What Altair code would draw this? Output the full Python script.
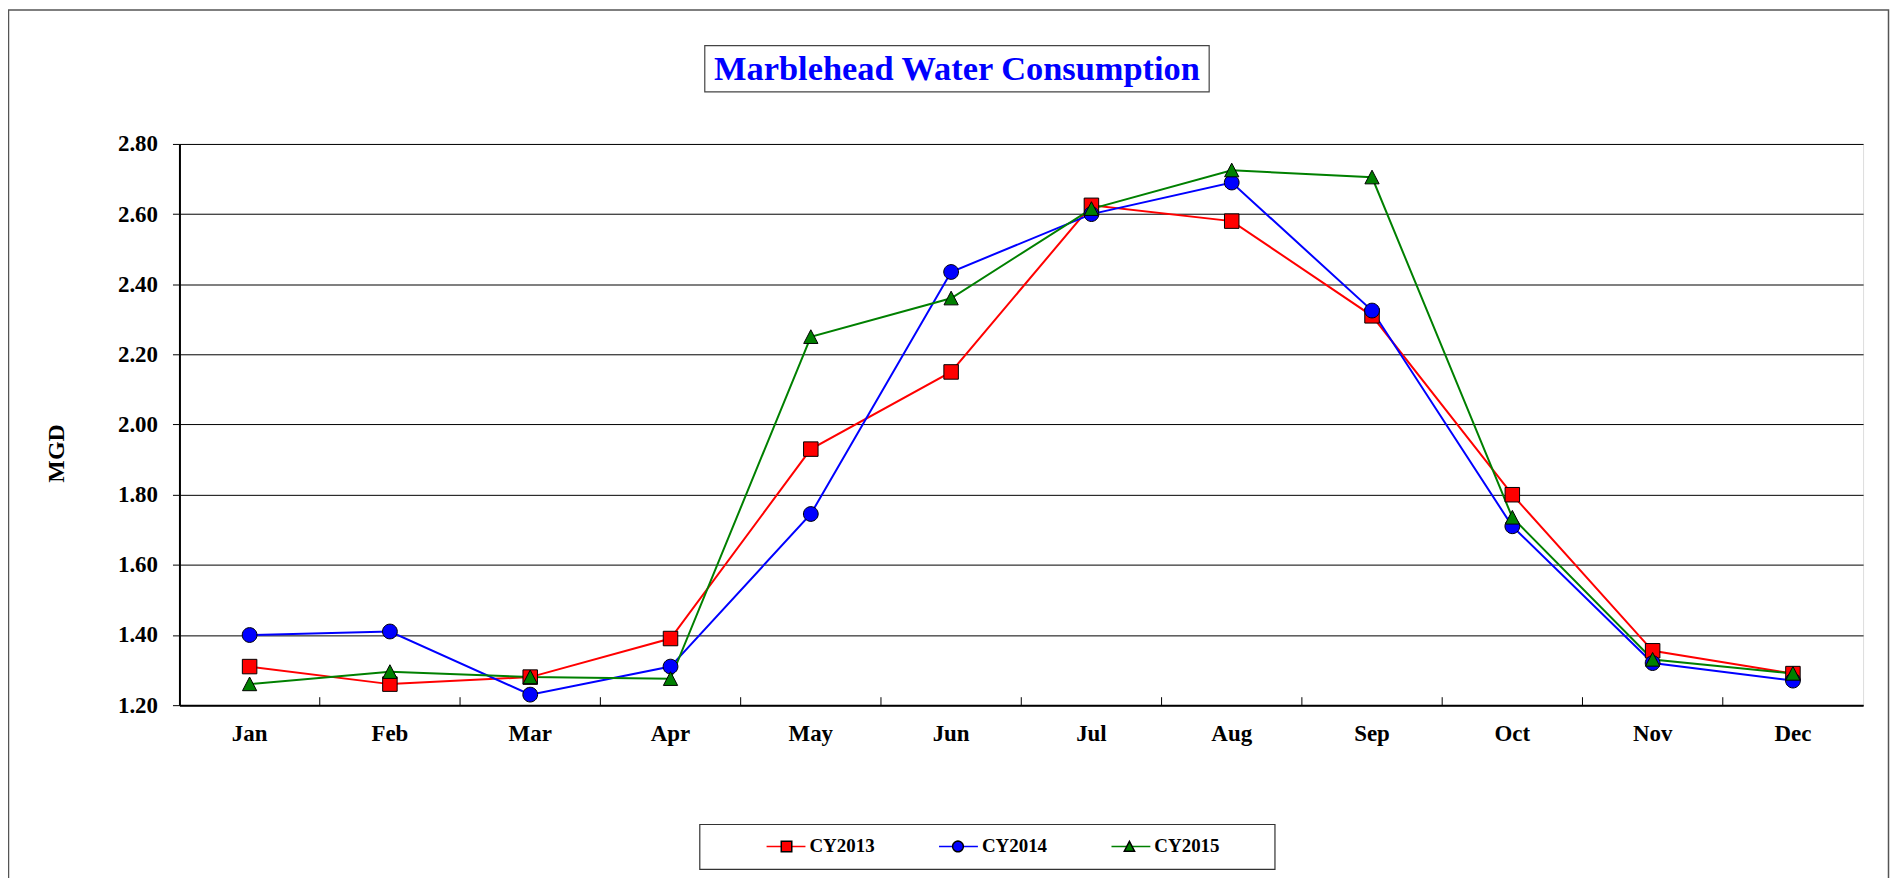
import math
import altair as alt
import pandas as pd

# ---------------- data ----------------
months = ["Jan", "Feb", "Mar", "Apr", "May", "Jun", "Jul", "Aug", "Sep", "Oct", "Nov", "Dec"]
series_names = ["CY2013", "CY2014", "CY2015"]
cy2013 = [1.31, 1.26, 1.28, 1.39, 1.93, 2.15, 2.625, 2.58, 2.31, 1.80, 1.355, 1.29]
cy2014 = [1.40, 1.41, 1.23, 1.31, 1.745, 2.435, 2.60, 2.69, 2.325, 1.71, 1.32, 1.27]
cy2015 = [1.26, 1.295, 1.28, 1.275, 2.25, 2.36, 2.615, 2.725, 2.705, 1.735, 1.33, 1.29]
y_ticks = [1.2, 1.4, 1.6, 1.8, 2.0, 2.2, 2.4, 2.6, 2.8]
title_text = "Marblehead Water Consumption"
y_title = "MGD"

line_colors = ["#FF0000", "#0000FF", "#008000"]

rows = []
for name, vals in zip(series_names, [cy2013, cy2014, cy2015]):
    for i, (m, v) in enumerate(zip(months, vals)):
        rows.append({"month": m, "idx": i, "mgd": v, "series": name, "marker": name})
df = pd.DataFrame(rows)
tick_df = pd.DataFrame({"month": months[1:]})
one = pd.DataFrame({"a": [0]})

FONT = "Liberation Serif"
W, H = 1689, 563

# custom marker shapes (unit coords, rendered at sqrt(size)/2 per unit)
r = 0.27
square = f"M{-r},{-r}H{r}V{r}H{-r}Z"
rc = 0.275
circle = "M" + "L".join(
    f"{rc * math.cos(2 * math.pi * k / 28):.4f},{rc * math.sin(2 * math.pi * k / 28):.4f}" for k in range(28)
) + "Z"
triangle = "M0,-0.265L0.265,0.245L-0.265,0.245Z"

x_scale = alt.Scale(type="band", paddingInner=0, paddingOuter=0, domain=months)
y_scale = alt.Scale(domain=[1.2, 2.8], nice=False, zero=False)

x_axis = alt.Axis(
    title=None, labelAngle=0, labelFont=FONT, labelFontSize=23, labelFontWeight="bold",
    labelColor="black", ticks=False, labelPadding=17, domainColor="black", domainWidth=2, grid=False,
)
y_axis = alt.Axis(
    values=y_ticks, format=".2f", title=y_title, titleFont=FONT, titleFontSize=24,
    titleFontWeight="bold", titleColor="black", titleAngle=270, titleX=-123, titleY=310,
    titleAlign="center", titleBaseline="middle",
    labelFont=FONT, labelFontSize=23, labelFontWeight="bold", labelColor="black",
    labelPadding=15, tickSize=7, tickColor="black", tickWidth=1,
    domainColor="black", domainWidth=2, grid=True, gridColor="black", gridWidth=1,
)

SYM = 1521
legend_common = dict(
    orient="none", legendX=588, legendY=684, direction="horizontal", columns=3, title=None,
    symbolSize=SYM, labelFont=FONT, labelFontSize=19, labelFontWeight="bold", labelColor="black",
    columnPadding=61, padding=0,
)
legend_lines = alt.Legend(symbolType="stroke", labelOffset=3, symbolOffset=0, **legend_common)
legend_marks = alt.Legend(labelOffset=4, symbolOffset=0.5, labelOpacity=0, **legend_common)

X = alt.X("month:N", sort=months, scale=x_scale, bandPosition=0.5, axis=x_axis)
Y = alt.Y("mgd:Q", scale=y_scale, axis=y_axis)

lines = alt.Chart(df).mark_line(strokeWidth=2).encode(
    x=X, y=Y,
    stroke=alt.Stroke("series:N", scale=alt.Scale(domain=series_names, range=line_colors), legend=legend_lines),
    order=alt.Order("idx:Q"),
)

points = alt.Chart(df).mark_point(filled=True, stroke="black", strokeWidth=1, size=2900, opacity=1).encode(
    x=X, y=Y,
    fill=alt.Fill("marker:N", scale=alt.Scale(domain=series_names, range=line_colors), legend=legend_marks),
    shape=alt.Shape("marker:N", scale=alt.Scale(domain=series_names, range=[square, circle, triangle]),
                    legend=legend_marks),
)

ticks = alt.Chart(tick_df).mark_rule(color="black", strokeWidth=1).encode(
    x=alt.X("month:N", sort=months, scale=x_scale, bandPosition=0, axis=x_axis),
    y=alt.value(H), y2=alt.value(H - 8),
)

outer = alt.Chart(one).mark_rect(fillOpacity=0, stroke="#555555", strokeWidth=1.5).encode(
    x=alt.value(-171.5), x2=alt.value(1714.5), y=alt.value(-134.3), y2=alt.value(900),
)
title_box = alt.Chart(one).mark_rect(fill="white", stroke="#444444", strokeWidth=1.2).encode(
    x=alt.value(527), x2=alt.value(1033), y=alt.value(-98.6), y2=alt.value(-52.3),
)
legend_box = alt.Chart(one).mark_rect(fill="white", stroke="#333333", strokeWidth=1.2).encode(
    x=alt.value(522), x2=alt.value(1099), y=alt.value(682.7), y2=alt.value(727.7),
)
title = alt.Chart(one).mark_text(
    text=title_text, font=FONT, fontSize=34.5, fontWeight="bold", color="#0000FF",
    align="center", baseline="alphabetic",
).encode(x=alt.value(780), y=alt.value(-64))

chart = alt.layer(outer, title_box, legend_box, ticks, lines, points, title).resolve_scale(
    stroke="independent", fill="independent", shape="independent"
).properties(
    width=W, height=H,
    autosize=alt.AutoSizeParams(type="none"),
    padding={"left": 172, "top": 135, "right": 27, "bottom": 172},
    background="white",
).configure_view(stroke="black", strokeWidth=2).configure(font=FONT)

chart.save("out.html", embed_options={"renderer": "svg", "actions": False})
